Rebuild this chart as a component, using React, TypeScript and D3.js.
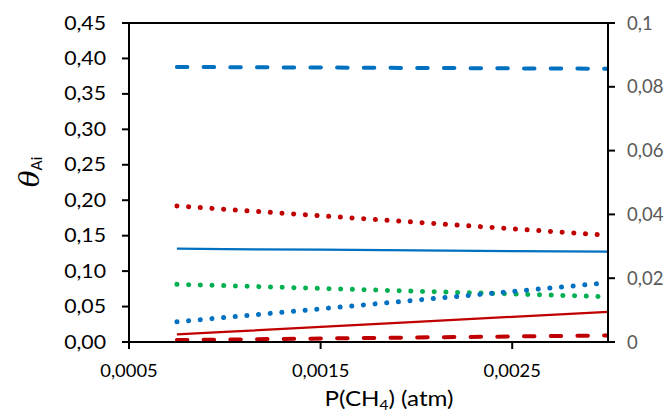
import React from 'react';
import * as d3 from 'd3';

// P(CH4) in atm
const pressure = [0.00075, 0.001, 0.0015, 0.002, 0.0025, 0.003];

// surface coverages
const blueDashed = [0.388, 0.3877, 0.3872, 0.3866, 0.386, 0.3855];
const redDotted = [0.192, 0.1872, 0.1781, 0.1689, 0.1597, 0.1505];
const blueSolid = [0.1316, 0.1311, 0.1302, 0.1292, 0.1283, 0.1274];
const greenDotted = [0.0813, 0.0795, 0.0756, 0.0716, 0.0677, 0.0639];
const blueDotted = [0.0286, 0.0346, 0.0468, 0.0591, 0.0713, 0.0836];
const redSolid = [0.0107, 0.0142, 0.0213, 0.0284, 0.0355, 0.0426];
const redDashed = [0.0027, 0.0034, 0.0049, 0.0064, 0.0078, 0.0093];

const leftTicks = [0, 0.05, 0.1, 0.15, 0.2, 0.25, 0.3, 0.35, 0.4, 0.45];
const rightTicks = [0, 0.02, 0.04, 0.06, 0.08, 0.1];
const xTicks = [0.0005, 0.0015, 0.0025];

const BLUE = '#0070C0';
const RED = '#C00000';
const GREEN = '#00B050';
const FONT = 'Lato, "Open Sans", sans-serif';

const series = [
  { values: blueDashed, color: BLUE, kind: 'dash' },
  { values: redDotted, color: RED, kind: 'dot' },
  { values: blueSolid, color: BLUE, kind: 'solid' },
  { values: greenDotted, color: GREEN, kind: 'dot' },
  { values: blueDotted, color: BLUE, kind: 'dot' },
  { values: redSolid, color: RED, kind: 'solid' },
  { values: redDashed, color: RED, kind: 'dash' },
];

const comma = (v: number, d?: number) =>
  (d === undefined ? String(v) : v.toFixed(d)).replace('.', ',');

const Stretch = ({ x, y, sx, anchor, children, ...rest }: any) => (
  <text transform={`translate(${x},${y}) scale(${sx},1)`} textAnchor={anchor} {...rest}>
    {children}
  </text>
);

const App = () => {
  const width = 670;
  const height = 415;
  const left = 129, right = 608, top = 23, bottom = 342;

  const x = d3.scaleLinear().domain([0.0005, 0.003]).range([left, right]);
  const y = d3.scaleLinear().domain([0, 0.45]).range([bottom, top]);
  const y2 = d3.scaleLinear().domain([0, 0.1]).range([bottom, top]);

  const line = d3.line<number>()
    .x((d, i) => x(pressure[i]))
    .y(d => y(d));

  const styleFor = (kind: string) => {
    if (kind === 'dot') return { strokeWidth: 5, strokeDasharray: '0.1 11.6', strokeLinecap: 'round' as const };
    if (kind === 'dash') return { strokeWidth: 4, strokeDasharray: '10.5 16.2', strokeLinecap: 'round' as const };
    return { strokeWidth: 2.25, strokeLinecap: 'butt' as const };
  };

  return (
    <svg width={width} height={height} style={{ position: 'absolute', left: 0, top: 0, background: '#fff' }}>
      <defs>
        <clipPath id="plot">
          <rect x={left} y={top} width={right - left} height={bottom - top} />
        </clipPath>
      </defs>

      <g clipPath="url(#plot)">
        {series.map((s, i) => (
          <path key={i} d={line(s.values) || ''} fill="none" stroke={s.color} {...styleFor(s.kind)} />
        ))}
      </g>

      {/* frame and axes */}
      <g stroke="#000" strokeWidth={2} fill="none">
        <line x1={left} x2={right} y1={top} y2={top} />
        <line x1={left} x2={left} y1={top - 1} y2={bottom + 1} />
        <line x1={right} x2={right} y1={top - 1} y2={bottom + 1} />
        <line x1={left - 1} x2={right + 1} y1={bottom} y2={bottom} />
        {leftTicks.map(t => (
          <line key={`l${t}`} x1={left - 7} x2={left} y1={y(t)} y2={y(t)} />
        ))}
        {rightTicks.map(t => (
          <line key={`r${t}`} x1={right} x2={right + 7} y1={y2(t)} y2={y2(t)} />
        ))}
        {xTicks.map(t => (
          <line key={`x${t}`} x1={x(t)} x2={x(t)} y1={bottom} y2={bottom + 7} />
        ))}
      </g>

      <g fontFamily={FONT} fontSize={18.5}>
        {leftTicks.map(t => (
          <Stretch key={t} x={106} y={y(t) + 6.5} sx={1.15} anchor="end" fill="#000">
            {comma(t, 2)}
          </Stretch>
        ))}
        {rightTicks.map(t => (
          <Stretch key={t} x={627} y={y2(t) + 6.5} sx={1.0} anchor="start" fill="#595959">
            {comma(t)}
          </Stretch>
        ))}
        {xTicks.map(t => (
          <Stretch key={t} x={x(t)} y={376.5} sx={1.08} anchor="middle" fill="#000" fontSize={17}>
            {comma(t)}
          </Stretch>
        ))}
        <Stretch x={389} y={405.5} sx={1.18} anchor="middle" fill="#000" fontSize={20.5}>
          P(CH<tspan fontSize={13} dy={4}>4</tspan><tspan dy={-4}>) (atm)</tspan>
        </Stretch>
      </g>

      <text transform="translate(39,172) rotate(-90)" textAnchor="middle" fill="#000">
        <tspan fontFamily='"DejaVu Serif", serif' fontStyle="italic" fontSize={28}>θ</tspan>
        <tspan fontFamily={FONT} fontSize={15} dy={3}>Ai</tspan>
      </text>
    </svg>
  );
};

export default App;
